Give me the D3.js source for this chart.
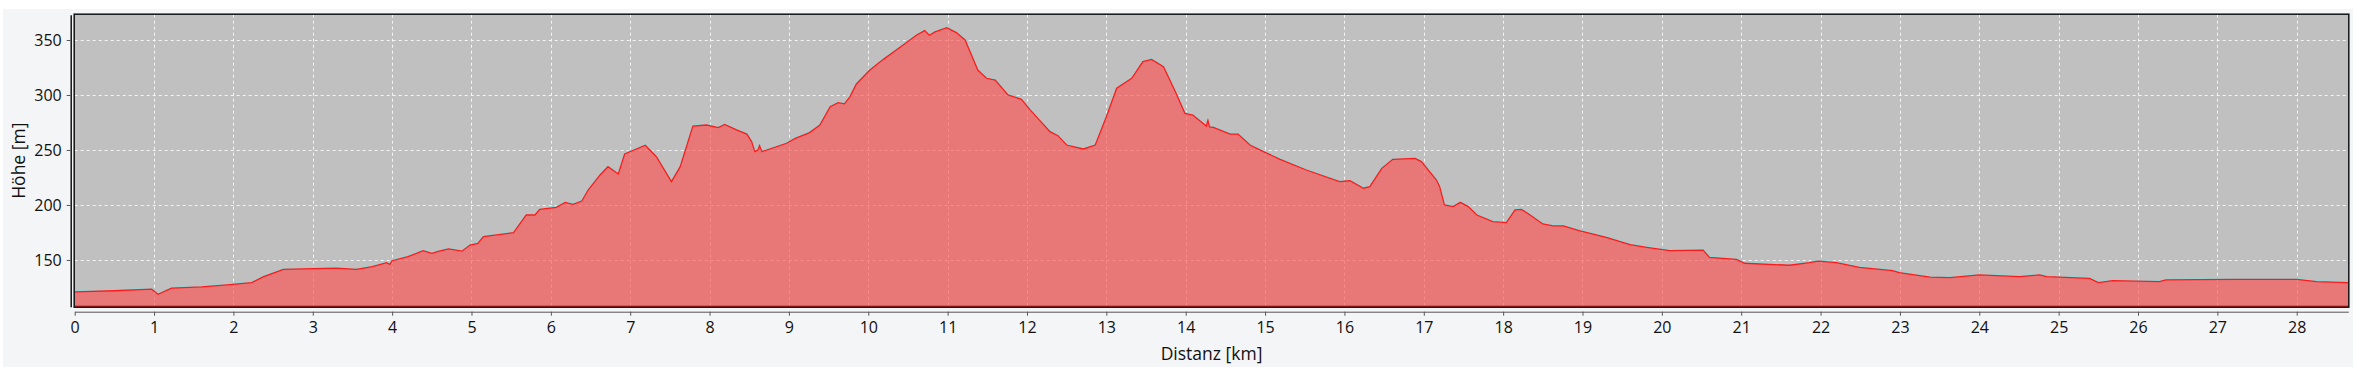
<!DOCTYPE html>
<html>
<head>
<meta charset="utf-8">
<script src="https://cdn.jsdelivr.net/npm/d3@7"></script>
<style>
  html, body { margin: 0; padding: 0; background: #ffffff; }
  svg { display: block; }
</style>
</head>
<body>
<svg width="2362" height="371"></svg>
<script>
// Elevation profile data
// ----------------------
var distKm = [0, 0.5, 0.97, 1.05, 1.22, 1.6, 1.92, 2.23, 2.38, 2.63, 3.01, 3.3, 3.55, 3.75, 3.93, 3.97, 4.0, 4.2,
  4.39, 4.5, 4.58, 4.71, 4.88, 4.98, 5.08, 5.15, 5.53, 5.69, 5.8, 5.86, 6.07, 6.18, 6.28, 6.39, 6.47, 6.62,
  6.72, 6.85, 6.93, 7.19, 7.33, 7.52, 7.63, 7.79, 7.96, 8.11, 8.19, 8.34, 8.47, 8.53, 8.57, 8.61, 8.63, 8.66,
  8.97, 9.08, 9.26, 9.39, 9.52, 9.62, 9.7, 9.77, 9.85, 10.02, 10.19, 10.4, 10.61, 10.71, 10.77, 10.84, 10.99,
  11.11, 11.22, 11.38, 11.49, 11.6, 11.76, 11.93, 12.04, 12.29, 12.39, 12.5, 12.71, 12.86, 13.0, 13.13, 13.32,
  13.46, 13.57, 13.72, 13.86, 13.99, 14.09, 14.26, 14.28, 14.3, 14.35, 14.56, 14.66, 14.81, 14.98, 15.19,
  15.52, 15.94, 16.07, 16.24, 16.32, 16.47, 16.61, 16.89, 16.97, 17.16, 17.2, 17.26, 17.37, 17.46, 17.56,
  17.67, 17.87, 18.04, 18.15, 18.23, 18.34, 18.5, 18.63, 18.76, 18.97, 19.3, 19.6, 19.81, 20.1, 20.52, 20.6,
  20.94, 21.04, 21.61, 21.86, 21.97, 22.2, 22.49, 22.91, 22.99, 23.38, 23.63, 24.0, 24.51, 24.76, 24.85,
  25.39, 25.5, 25.68, 26.27, 26.35, 27.2, 28.0, 28.25, 28.65];

var elevM = [121, 122, 123.4, 118.8, 124.3, 125.5, 127.3, 129.4, 134.9, 141.5, 142.1, 142.5, 141.5, 144, 147.5, 146, 149.3, 153,
  158.5, 156.1, 157.9, 160, 158, 163.6, 165, 171.2, 174.8, 190.9, 190.9, 196, 197.9, 202.4, 200.6, 203.6, 213.6, 227.3,
  234.8, 228.2, 246.4, 254.3, 243.9, 221.2, 234.8, 271.8, 272.7, 270.3, 273.3, 268.2, 264.5, 257.6, 248.5, 250, 254, 248.5,
  256.1, 260.6, 265.8, 272.7, 289.4, 293, 292, 298.5, 310, 322.7, 332.4, 343.4, 354.5, 358.5, 354.3, 357.4, 361.2,
  356.7, 350, 322.7, 315.2, 313.6, 300, 296.1, 286.4, 266.7, 263, 254.5, 250.9, 254.5, 280.3, 306.1, 315.2,
  330.3, 332.4, 325.8, 304.5, 283.3, 281.8, 271.8, 277, 271, 270.6, 264.5, 264.5, 254.5, 248.5, 241.5,
  231.8, 221.2, 222, 215.2, 216.7, 233.3, 241.5, 242.4, 239.4, 222.7, 216.7, 200, 198.5, 202.4, 198.5,
  190.9, 184.8, 183.9, 195.5, 196, 190.9, 182.7, 180.9, 180.9, 176.4, 170.6, 164, 161.5, 158.5, 159, 152.4,
  150.6, 147, 145.2, 147.5, 149, 147.5, 143.3, 140.3, 138.5, 134.3, 134, 136.4, 134.8, 136.4, 134.8,
  133.3, 129.4, 131.2, 130.3, 131.8, 132.4, 132.4, 130.3, 129.4];

var xTicks = d3.range(0, 29, 1);
var yTicks = [150, 200, 250, 300, 350];

var xTitle = 'Distanz [km]';
var yTitle = 'Höhe [m]';

// Layout
// ------
var plot = {left: 74.7, right: 2348.3, top: 14.7, bottom: 306.7};
var font = '"Open Sans", "Noto Sans", sans-serif';

var x = d3.scaleLinear().domain([0, 28.65]).range([plot.left, plot.right]);
var y = d3.scaleLinear().domain([107.5, 373]).range([plot.bottom, plot.top]);

var points = distKm.map(function (d, i) { return [d, elevM[i]]; });

var svg = d3.select('svg');

// outer panel
svg.append('rect')
   .attr('x', 3).attr('y', 9)
   .attr('width', 2350).attr('height', 358)
   .style('fill', '#f4f5f7');

// plot background
svg.append('rect')
   .attr('x', plot.left).attr('y', plot.top)
   .attr('width', plot.right - plot.left).attr('height', plot.bottom - plot.top)
   .style('fill', '#c0c0c0');

// dashed grid
var grid = svg.append('g')
   .attr('stroke', '#ffffff')
   .attr('stroke-width', 1)
   .attr('stroke-dasharray', '3,3')
   .attr('opacity', 0.85);

grid.selectAll('line.v')
   .data(xTicks.filter(function (d) { return d > 0; }))
   .enter().append('line')
   .attr('class', 'v')
   .attr('x1', function (d) { return Math.round(x(d)) + 0.5; })
   .attr('x2', function (d) { return Math.round(x(d)) + 0.5; })
   .attr('y1', plot.top).attr('y2', plot.bottom);

grid.selectAll('line.h')
   .data(yTicks)
   .enter().append('line')
   .attr('class', 'h')
   .attr('x1', plot.left).attr('x2', plot.right)
   .attr('y1', function (d) { return Math.round(y(d)) + 0.5; })
   .attr('y2', function (d) { return Math.round(y(d)) + 0.5; });

// elevation area
var area = d3.area()
   .x(function (d) { return x(d[0]); })
   .y0(plot.bottom)
   .y1(function (d) { return y(d[1]); });

var line = d3.line()
   .x(function (d) { return x(d[0]); })
   .y(function (d) { return y(d[1]); });

svg.append('path')
   .datum(points)
   .attr('d', area)
   .style('fill', 'rgb(255,79,79)')
   .style('fill-opacity', 0.635);

// light halo above the outline
svg.append('path')
   .datum(points)
   .attr('d', line)
   .attr('transform', 'translate(0,-1)')
   .style('fill', 'none')
   .style('stroke', '#93d4d4')
   .style('stroke-width', 1.2);

svg.append('path')
   .datum(points)
   .attr('d', line)
   .style('fill', 'none')
   .style('stroke', '#ff1a1a')
   .style('stroke-width', 1.3);

// red base line
svg.append('line')
   .attr('x1', plot.left).attr('x2', plot.right)
   .attr('y1', plot.bottom - 0.5).attr('y2', plot.bottom - 0.5)
   .style('stroke', '#ff2020')
   .style('stroke-width', 1.5);

// plot frame
svg.append('rect')
   .attr('x', plot.left - 0.5).attr('y', plot.top - 0.5)
   .attr('width', plot.right - plot.left + 1).attr('height', plot.bottom - plot.top + 1)
   .style('fill', 'none')
   .style('stroke', '#111111')
   .style('stroke-width', 1.5);

// Axes
// ----
var xAxis = svg.append('g')
   .attr('transform', 'translate(0,' + (plot.bottom + 5) + ')')
   .call(d3.axisBottom(x).tickValues(xTicks).tickSize(4).tickSizeOuter(0).tickPadding(6));

var yAxis = svg.append('g')
   .attr('transform', 'translate(' + (plot.left - 4) + ',0)')
   .call(d3.axisLeft(y).tickValues(yTicks).tickSize(4).tickSizeOuter(0).tickPadding(5));

[xAxis, yAxis].forEach(function (g) {
  g.select('.domain').style('stroke', '#555555').style('stroke-width', 1);
  g.selectAll('.tick line').style('stroke', '#555555');
  g.selectAll('.tick text')
   .attr('font-family', font)
   .attr('font-size', '16px')
   .attr('fill', '#111111');
});
yAxis.select('.domain').style('stroke', '#111111').style('stroke-width', 1.5);

// axis titles
svg.append('text')
   .attr('x', (plot.left + plot.right) / 2)
   .attr('y', 360)
   .attr('text-anchor', 'middle')
   .attr('font-family', font)
   .attr('font-size', '17.5px')
   .attr('fill', '#111111')
   .text(xTitle);

svg.append('text')
   .attr('transform', 'translate(25,' + ((plot.top + plot.bottom) / 2) + ') rotate(-90)')
   .attr('text-anchor', 'middle')
   .attr('font-family', font)
   .attr('font-size', '17.5px')
   .attr('fill', '#111111')
   .text(yTitle);
</script>
</body>
</html>
